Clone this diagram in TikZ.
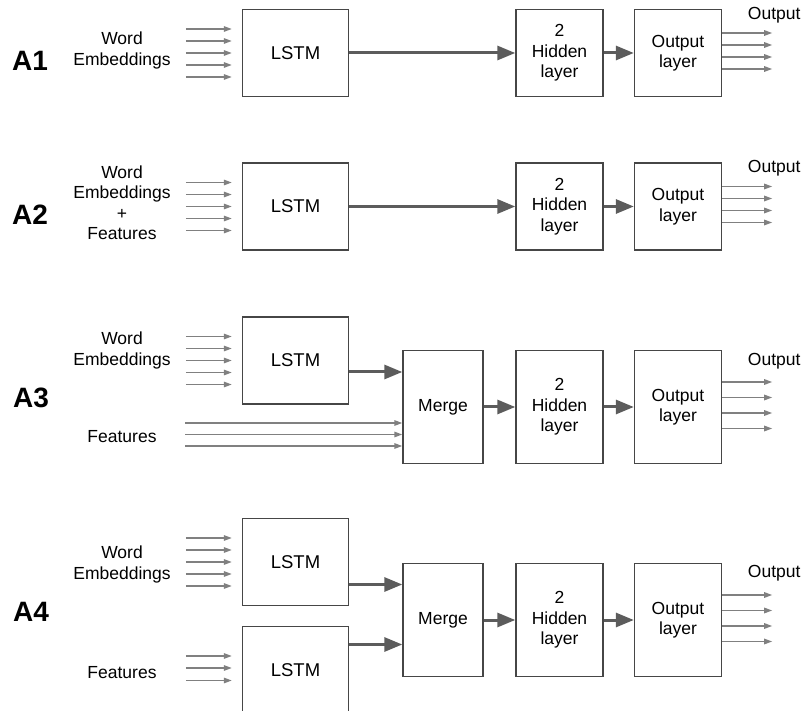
\documentclass[tikz,border=0pt]{standalone}
\usepackage{fontspec}
\setmainfont{Liberation Sans}
\usetikzlibrary{arrows.meta,calc}
\definecolor{boxline}{HTML}{464646}
\definecolor{thinline}{HTML}{808080}
\definecolor{fatline}{HTML}{5C5C5C}
\newcommand{\boxfont}{\fontsize{17.5}{20.5}\selectfont}
\tikzset{
  layer/.style={draw=boxline, line width=1.4pt, inner sep=0pt, align=center, font=\boxfont},
  lstmbox/.style={layer, minimum width=106pt, minimum height=87pt, font=\fontsize{18.5}{20.5}\selectfont},
  sqbox/.style={layer, minimum width=87pt, minimum height=87pt},
  tallbox/.style={layer, minimum width=87pt, minimum height=113pt},
  mergebox/.style={layer, minimum width=80pt, minimum height=113pt},
  txt/.style={inner sep=0pt, align=center, font=\boxfont},
  rowlabel/.style={inner sep=0pt, font=\fontsize{28}{30}\selectfont\bfseries},
  thinarr/.style={draw=thinline, line width=1.4pt, -{Triangle[length=8pt,width=5.5pt]}},
  fatarr/.style={draw=fatline, line width=3pt, -{Triangle[length=18pt,width=14pt]}}
}
\begin{document}
\begin{tikzpicture}[x=1pt, y=-1pt]
\clip (0,0) rectangle (804,711);

% A1
\node[rowlabel] (labA) at (30,60.5) {A1};
\node[txt] (inA) at (122,50.5) {Word\\Embeddings};
\node[lstmbox] (lstmA) at (295.5,53) {LSTM};
\node[sqbox] (hidA) at (559.5,53) {2\\Hidden\\layer};
\node[sqbox] (outA) at (678,53) {Output\\layer};
\node[txt] (resA) at ($(outA.east)+(52,-38)$) {Output};
\foreach \d in {-24,-12,0,12,24}
  \draw[thinarr] ($(lstmA.west)+(-56,\d)$) -- ($(lstmA.west)+(-10,\d)$);
\draw[fatarr] (lstmA.east) -- (hidA.west);
\draw[fatarr] (hidA.east) -- (outA.west);
\foreach \d in {-20,-8,4,16}
  \draw[thinarr] ($(outA.east)+(0,\d)$) -- ($(outA.east)+(50,\d)$);

% A2
\node[rowlabel] (labB) at (30,215) {A2};
\node[txt] (inB) at (122,202.5) {Word\\Embeddings\\+\\Features};
\node[lstmbox] (lstmB) at (295.5,206.5) {LSTM};
\node[sqbox] (hidB) at (559.5,206.5) {2\\Hidden\\layer};
\node[sqbox] (outB) at (678,206.5) {Output\\layer};
\node[txt] (resB) at ($(outB.east)+(52,-38)$) {Output};
\foreach \d in {-24,-12,0,12,24}
  \draw[thinarr] ($(lstmB.west)+(-56,\d)$) -- ($(lstmB.west)+(-10,\d)$);
\draw[fatarr] (lstmB.east) -- (hidB.west);
\draw[fatarr] (hidB.east) -- (outB.west);
\foreach \d in {-20,-8,4,16}
  \draw[thinarr] ($(outB.east)+(0,\d)$) -- ($(outB.east)+(50,\d)$);

% A3
\node[rowlabel] (labC) at (31,397.5) {A3};
\node[txt] (inC) at (122,350.5) {Word\\Embeddings};
\node[txt] (featC) at (122,436.5) {Features};
\node[lstmbox] (lstmC) at (295.5,360.5) {LSTM};
\node[mergebox] (mergeC) at (443,407) {Merge};
\node[tallbox] (hidC) at (559.5,407) {2\\Hidden\\layer};
\node[tallbox] (outC) at (678,407) {Output\\layer};
\node[txt] (resC) at ($(outC.east)+(52,-46)$) {Output};
\foreach \d in {-24,-12,0,12,24}
  \draw[thinarr] ($(lstmC.west)+(-56,\d)$) -- ($(lstmC.west)+(-10,\d)$);
\draw[fatarr] ($(lstmC.east)+(0,11.5)$) coordinate (cC) -- (cC -| mergeC.west);
\foreach \d in {16,27.5,39}
  \draw[thinarr] ($(mergeC.west)+(-217,\d)$) -- ($(mergeC.west)+(0,\d)$);
\draw[fatarr] (mergeC.east) -- (hidC.west);
\draw[fatarr] (hidC.east) -- (outC.west);
\foreach \d in {-25,-9.5,6,21.5}
  \draw[thinarr] ($(outC.east)+(0,\d)$) -- ($(outC.east)+(50,\d)$);

% A4
\node[rowlabel] (labD) at (31,612) {A4};
\node[txt] (inD) at (122,564.5) {Word\\Embeddings};
\node[txt] (featD) at (122,673) {Features};
\node[lstmbox] (lstmD) at (295.5,562) {LSTM};
\node[lstmbox] (lstmE) at (295.5,670) {LSTM};
\node[mergebox] (mergeD) at (443,620) {Merge};
\node[tallbox] (hidD) at (559.5,620) {2\\Hidden\\layer};
\node[tallbox] (outD) at (678,620) {Output\\layer};
\node[txt] (resD) at ($(outD.east)+(52,-47)$) {Output};
\foreach \d in {-24,-12,0,12,24}
  \draw[thinarr] ($(lstmD.west)+(-56,\d)$) -- ($(lstmD.west)+(-10,\d)$);
\foreach \d in {-14,-2,10.5}
  \draw[thinarr] ($(lstmE.west)+(-56,\d)$) -- ($(lstmE.west)+(-10,\d)$);
\draw[fatarr] ($(lstmD.east)+(0,22.5)$) coordinate (cD) -- (cD -| mergeD.west);
\draw[fatarr] ($(lstmE.east)+(0,-25.5)$) coordinate (cE) -- (cE -| mergeD.west);
\draw[fatarr] (mergeD.east) -- (hidD.west);
\draw[fatarr] (hidD.east) -- (outD.west);
\foreach \d in {-25,-9.5,6,21.5}
  \draw[thinarr] ($(outD.east)+(0,\d)$) -- ($(outD.east)+(50,\d)$);
\end{tikzpicture}
\end{document}
